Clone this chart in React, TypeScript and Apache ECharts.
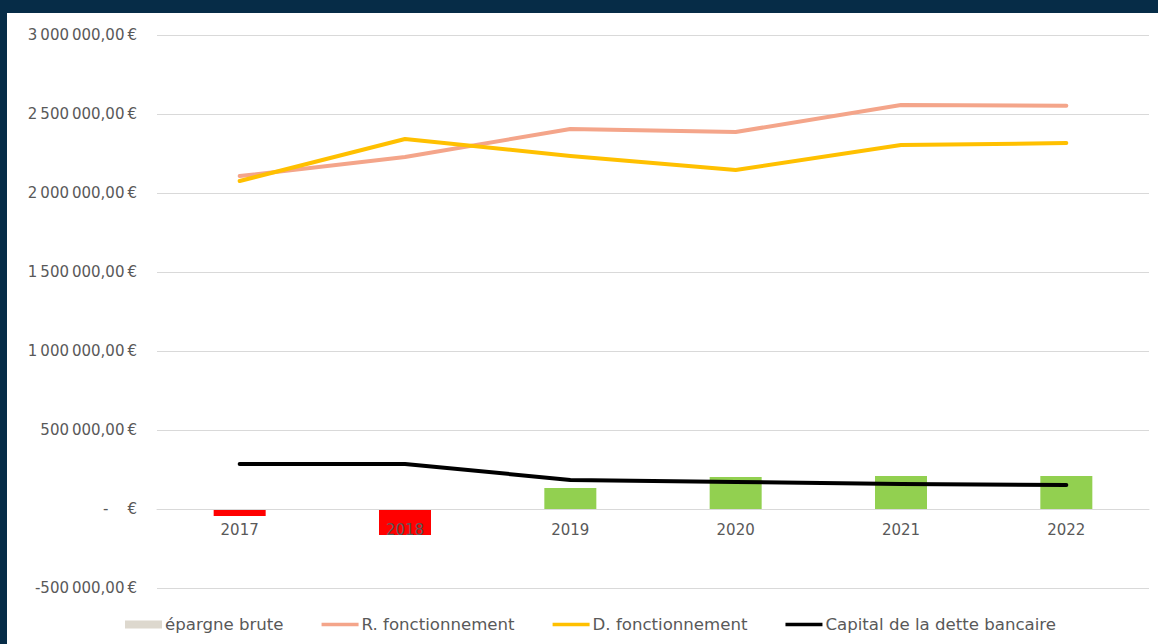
import React, { useEffect, useRef } from "react";
import * as echarts from "echarts";

const years = ["2017", "2018", "2019", "2020", "2021", "2022"];
const epargneBrute = [-45000, -165000, 133000, 203000, 209000, 209000];
const rFonctionnement = [2107000, 2228000, 2405000, 2386000, 2557000, 2553000];
const dFonctionnement = [2076000, 2342000, 2234000, 2146000, 2304000, 2316000];
const capitalDette = [285000, 285000, 184000, 171000, 158000, 152000];

const yMin = -500000;
const yMax = 3000000;
const yStep = 500000;

function fmt(v: number): string {
  if (v === 0) return "-    €";
  const neg = v < 0;
  const s = Math.abs(v).toString().replace(/\B(?=(\d{3})+(?!\d))/g, "\u2009");
  return (neg ? "-" : "") + s + ",00\u2009€";
}

const lineIcon = "path://M0,0M0,2h40v4h-40zM40,8";

export default function App() {
  const ref = useRef<HTMLDivElement>(null);
  useEffect(() => {
    document.body.style.margin = "0";
    const chart = echarts.init(ref.current!, null, { renderer: "svg" });
    const font = "DejaVu Sans";
    const grey = "#595959";
    chart.setOption({
      animation: false,
      backgroundColor: "#ffffff",
      graphic: [
        { type: "rect", left: 0, top: 0, shape: { width: 1158, height: 13 }, style: { fill: "#062c47" }, z: 100 },
        { type: "rect", left: 0, top: 0, shape: { width: 7, height: 644 }, style: { fill: "#062c47" }, z: 100 },
      ],
      grid: { left: 157, right: 9, top: 35, bottom: 56, containLabel: false },
      xAxis: {
        type: "category",
        data: years,
        offset: -79,
        axisLine: { show: true, onZero: false, lineStyle: { color: "#d9d9d9", width: 1 } },
        axisTick: { show: false },
        axisLabel: { color: grey, fontFamily: font, fontSize: 15, margin: 13 },
        z: 10,
      },
      yAxis: {
        type: "value",
        min: yMin,
        max: yMax,
        interval: yStep,
        axisLine: { show: false },
        axisTick: { show: false },
        splitLine: { lineStyle: { color: "#d9d9d9", width: 1 } },
        axisLabel: {
          color: grey,
          fontFamily: font,
          fontSize: 15,
          margin: 20,
          formatter: (v: number) => fmt(v),
        },
      },
      legend: {
        bottom: 6,
        left: 120,
        itemWidth: 37,
        itemHeight: 8,
        itemGap: 38,
        textStyle: { color: grey, fontFamily: font, fontSize: 16.6, padding: [0, 0, 0, -2] },
        data: [
          { name: "épargne brute", icon: "rect" },
          { name: "R. fonctionnement", icon: lineIcon },
          { name: "D. fonctionnement", icon: lineIcon },
          { name: "Capital de la dette bancaire", icon: lineIcon },
        ],
      },
      series: [
        {
          name: "épargne brute",
          type: "bar",
          barWidth: 52,
          color: "#ddd8ce",
          data: epargneBrute.map((v) => ({
            value: v,
            itemStyle: { color: v < 0 ? "#ff0000" : "#92d050" },
          })),
          z: 2,
        },
        {
          name: "R. fonctionnement",
          type: "line",
          symbol: "none",
          color: "#f4a58a",
          lineStyle: { width: 4, color: "#f4a58a", cap: "round", join: "round" },
          data: rFonctionnement,
          z: 3,
        },
        {
          name: "D. fonctionnement",
          type: "line",
          symbol: "none",
          color: "#ffc000",
          lineStyle: { width: 4, color: "#ffc000", cap: "round", join: "round" },
          data: dFonctionnement,
          z: 4,
        },
        {
          name: "Capital de la dette bancaire",
          type: "line",
          symbol: "none",
          color: "#000000",
          lineStyle: { width: 4, color: "#000000", cap: "round", join: "round" },
          data: capitalDette,
          z: 5,
        },
      ],
    });
    return () => chart.dispose();
  }, []);
  return <div ref={ref} style={{ width: 1158, height: 644 }} />;
}
